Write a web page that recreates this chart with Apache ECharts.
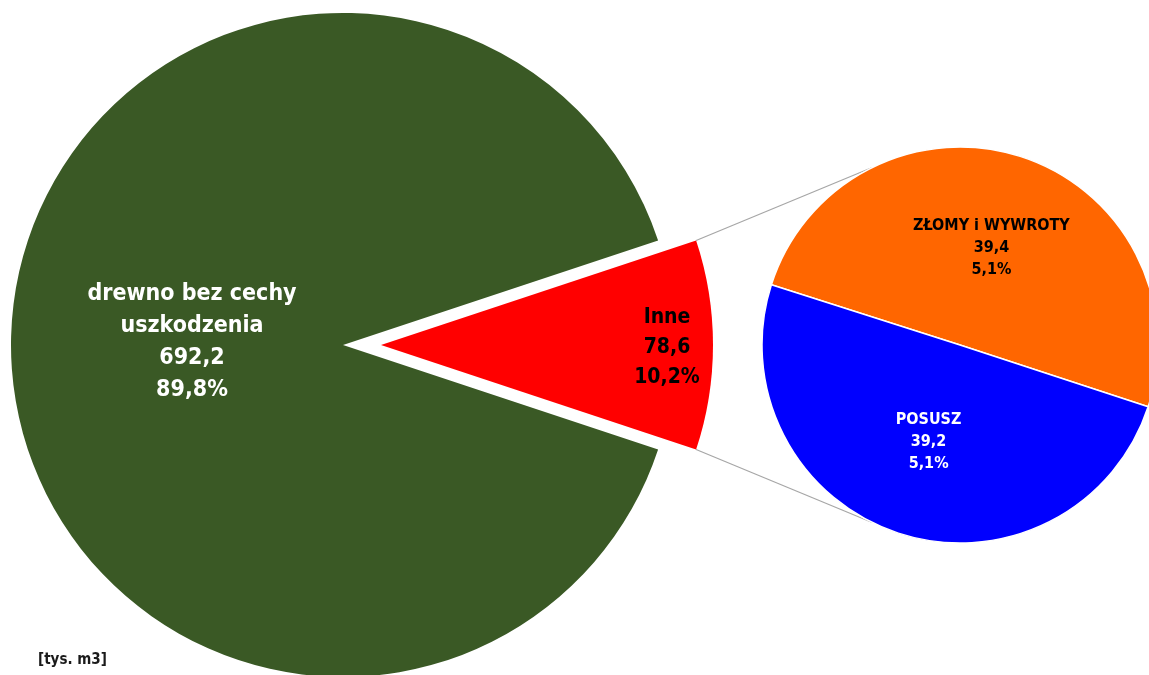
<!DOCTYPE html>
<html>
<head>
<meta charset="utf-8">
<script src="https://cdn.jsdelivr.net/npm/echarts@6/dist/echarts.min.js"></script>
<style>
html,body{margin:0;padding:0;background:#fff;}
#chart{width:1149px;height:675px;}
</style>
</head>
<body>
<div id="chart"></div>
<script>
// ---- data ----
const mainNames = ['Inne', 'drewno bez cechy\nuszkodzenia'];
const mainValues = [78.6, 692.2];
const subNames = ['ZŁOMY i WYWROTY', 'POSUSZ'];
const subValues = [39.4, 39.2];
const unitLabel = '[tys. m3]';

const mainColors = ['#FF0000', '#3A5925'];
const subColors = ['#FF6600', '#0000FF'];
const FONT = "'Liberation Sans Narrow', 'Arial Narrow', 'DejaVu Sans Condensed', sans-serif";

const total = mainValues.reduce((a, b) => a + b, 0);
const fmt = v => v.toFixed(1).replace('.', ',');
const pct = v => (v / total * 100).toFixed(1).replace('.', ',') + '%';

const mainCenter = [343, 345], mainR = 332, explode = 38;
const subCenter = [960, 345], subR = 198;
const redHalf = mainValues[0] / total * 180; // degrees
const subStart = 162.3;

const chart = echarts.init(document.getElementById('chart'), null, {renderer: 'canvas'});

const mainLabelStyles = [
  {color: '#000', fontSize: 21, lineHeight: 30},
  {color: '#fff', fontSize: 23, lineHeight: 32}
];
const subLabelStyles = [
  {color: '#000', fontSize: 16, lineHeight: 22},
  {color: '#fff', fontSize: 16, lineHeight: 22}
];

// connector lines (computed from the pie geometry)
const rc = [mainCenter[0] + explode, mainCenter[1]];
const h = redHalf * Math.PI / 180;
const redTop = [rc[0] + mainR * Math.cos(h), rc[1] - mainR * Math.sin(h)];
const redBot = [rc[0] + mainR * Math.cos(h), rc[1] + mainR * Math.sin(h)];
const ca = 116.5 * Math.PI / 180;
const subTop = [subCenter[0] + subR * Math.cos(ca), subCenter[1] - subR * Math.sin(ca)];
const subBot = [subCenter[0] + subR * Math.cos(ca), subCenter[1] + subR * Math.sin(ca)];

chart.setOption({
  animation: false,
  backgroundColor: '#fff',
  graphic: [
    {type: 'line', z: 0, shape: {x1: redTop[0], y1: redTop[1], x2: subTop[0], y2: subTop[1]}, style: {stroke: '#A6A6A6', lineWidth: 1.2}},
    {type: 'line', z: 0, shape: {x1: redBot[0], y1: redBot[1], x2: subBot[0], y2: subBot[1]}, style: {stroke: '#A6A6A6', lineWidth: 1.2}},
    {type: 'text', left: 38, top: 653, style: {text: unitLabel, font: "bold 15px " + FONT, fill: '#1a1a1a'}}
  ],
  series: [
    {
      type: 'pie',
      center: mainCenter,
      radius: [0, mainR],
      startAngle: redHalf,
      clockwise: true,
      selectedMode: 'single',
      selectedOffset: explode,
      avoidLabelOverlap: false,
      emphasis: {disabled: true},
      itemStyle: {borderWidth: 0},
      label: {
        show: true,
        position: 'inside',
        fontFamily: FONT,
        fontWeight: 'bold',
        align: 'center',
        formatter: p => p.name + '\n' + fmt(p.value) + '\n' + pct(p.value)
      },
      labelLayout: p => p.dataIndex === 0 ? {dx: 117, dy: 3} : {dx: 18, dy: -3},
      data: mainValues.map((v, i) => ({
        name: mainNames[i],
        value: v,
        selected: i === 0,
        itemStyle: {color: mainColors[i]},
        label: mainLabelStyles[i]
      }))
    },
    {
      type: 'pie',
      center: subCenter,
      radius: [0, subR],
      startAngle: subStart,
      clockwise: true,
      avoidLabelOverlap: false,
      emphasis: {disabled: true},
      itemStyle: {borderColor: '#fff', borderWidth: 1.5},
      label: {
        show: true,
        position: 'inside',
        fontFamily: FONT,
        fontWeight: 'bold',
        align: 'center',
        formatter: p => p.name + '\n' + fmt(p.value) + '\n' + pct(p.value)
      },
      data: subValues.map((v, i) => ({
        name: subNames[i],
        value: v,
        itemStyle: {color: subColors[i]},
        label: subLabelStyles[i]
      }))
    }
  ]
});
</script>
</body>
</html>
